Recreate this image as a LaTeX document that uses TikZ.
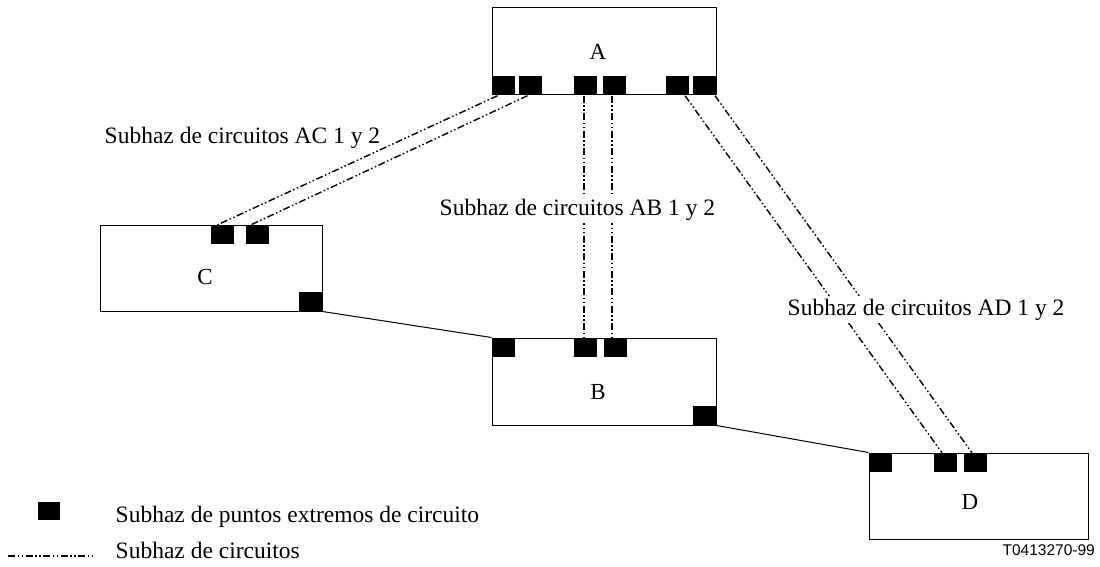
\documentclass[tikz,border=0pt]{standalone}
\usepackage{fontspec}
\setmainfont{Liberation Serif}
\newfontfamily\labelsans{Liberation Sans}
\begin{document}
\begin{tikzpicture}[x=1pt,y=-1pt,
  box/.style={draw=black,line width=1pt,fill=white,minimum width=#1,inner sep=0pt},
  box/.default=224pt,
  sq/.style={fill=black,draw=none,minimum width=23pt,minimum height=19pt,inner sep=0pt},
  letter/.style={font=\fontsize{23}{27}\selectfont,inner sep=0pt},
  lbl/.style={font=\fontsize{23.5}{28}\selectfont,fill=white,inner sep=2.5pt,anchor=base west},
  bundle/.style={line width=1.4pt,dash pattern=on 7pt off 2.5pt on 1.5pt off 2.5pt on 1.5pt off 2.5pt},
  link/.style={line width=1pt}]
\useasboundingbox (0,0) rectangle (1100,567);
% boxes
\node[box=224pt,minimum height=87pt] (A) at (604,51.5) {};
\node[box=222pt,minimum height=86pt] (C) at (211,268) {};
\node[box=224pt,minimum height=87pt] (B) at (604,381.5) {};
\node[box=219pt,minimum height=86pt] (D) at (978.5,496) {};
\node[letter] (Al) at (598,52) {A};
\node[letter] (Cl) at (205,277) {C};
\node[letter] (Bl) at (598,392) {B};
\node[letter] (Dl) at (970,502) {D};
% end-point squares
\node[sq] (a1) at (503.5,86) {};
\node[sq] (a2) at (530.5,86) {};
\node[sq] (a3) at (585.5,86) {};
\node[sq] (a4) at (614,86) {};
\node[sq] (a5) at (677.5,86) {};
\node[sq] (a6) at (704.5,86) {};
\node[sq] (c1) at (222.5,234.5) {};
\node[sq] (c2) at (257,234.5) {};
\node[sq] (c3) at (310.5,301.5) {};
\node[sq] (b1) at (503.5,347.5) {};
\node[sq] (b2) at (585.5,347.5) {};
\node[sq] (b3) at (615,347.5) {};
\node[sq] (b4) at (704.5,415.5) {};
\node[sq] (d1) at (880.5,462.5) {};
\node[sq] (d2) at (945,462.5) {};
\node[sq] (d3) at (975,462.5) {};
% circuit sub-groups
\draw[bundle] ([xshift=-6pt]a1.south) -- ([xshift=-5pt]c1.north);
\draw[bundle] ([xshift=-3pt]a2.south) -- ([xshift=-6pt]c2.north);
\draw[bundle] ([xshift=-1.5pt]a3.south) -- ([xshift=-1.5pt]b2.north);
\draw[bundle] ([xshift=-2pt]a4.south) -- ([xshift=-3pt]b3.north);
\draw[bundle] ([xshift=7.5pt]a5.south) -- ([xshift=-3pt]d2.north);
\draw[bundle] ([xshift=10.5pt]a6.south) -- ([xshift=-3pt]d3.north);
% solid links
\draw[link] (C.south east) -- (B.north west);
\draw[link] (B.south east) -- (D.north west);
% labels
\node[lbl,fill=none] (lAC) at (102,143) {Subhaz de circuitos AC 1 y 2};
\node[lbl] (lAB) at (437,215) {Subhaz de circuitos AB 1 y 2};
\node[lbl] (lAD) at (785,315) {Subhaz de circuitos AD 1 y 2};
% legend
\node[sq,minimum width=22pt,minimum height=18pt] (legsq) at (49,511) {};
\node[lbl,fill=none] (legt1) at (113,522) {Subhaz de puntos extremos de circuito};
\coordinate (legl1) at (8,556);
\coordinate (legl2) at (95,556);
\draw[bundle,line width=1.2pt] (legl1) -- (legl2);
\node[lbl,fill=none] (legt2) at (113,558) {Subhaz de circuitos};
\node[font=\labelsans\fontsize{15.5}{18}\selectfont,anchor=base east,inner sep=0pt] (code) at (1095,555) {T0413270-99};
\end{tikzpicture}
\end{document}
